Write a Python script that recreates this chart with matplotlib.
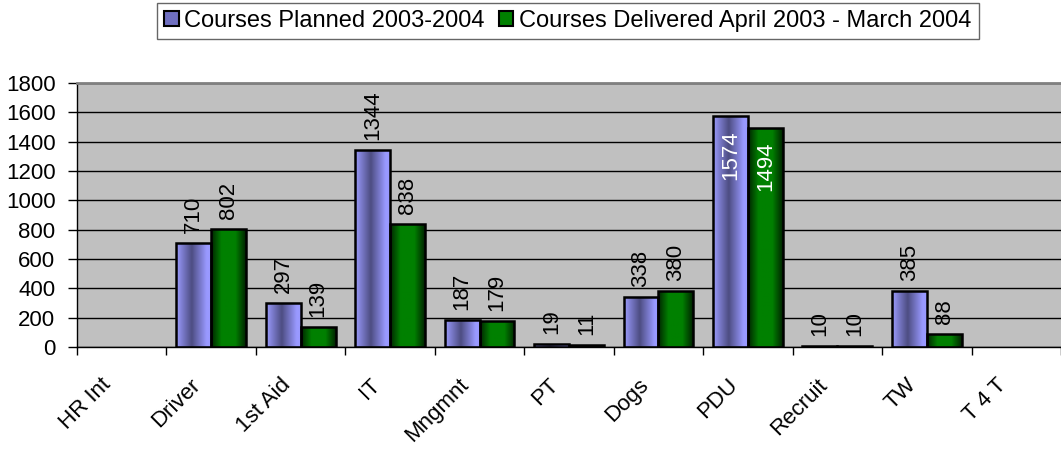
import numpy as np
import matplotlib
matplotlib.use('Agg')
import matplotlib.pyplot as plt
from matplotlib.colors import LinearSegmentedColormap
from matplotlib.transforms import ScaledTranslation
from matplotlib.patches import Patch

categories = ['HR Int', 'Driver', '1st Aid', 'IT', 'Mngmnt', 'PT', 'Dogs',
              'PDU', 'Recruit', 'TW', 'T 4 T']
planned = [np.nan, 710, 297, 1344, 187, 19, 338, 1574, 10, 385, np.nan]
delivered = [np.nan, 802, 139, 838, 179, 11, 380, 1494, 10, 88, np.nan]
series_names = ['Courses Planned 2003-2004',
                'Courses Delivered April 2003 - March 2004']
yticks = list(range(0, 1801, 200))

plt.rcParams['font.family'] = ['Liberation Sans', 'DejaVu Sans']
FS = 16

fig = plt.figure(figsize=(10.61, 4.49), dpi=100)
ax = fig.add_axes([77 / 1061, 1 - 347 / 449, (1061 - 77) / 1061, (347 - 83) / 449])
ax.set_facecolor('#C0C0C0')

x = np.arange(len(categories))
w = 0.39

cmap_p = LinearSegmentedColormap.from_list(
    'p', [(0, '#9C9CFF'), (0.45, '#4D4D82'), (0.88, '#9999FF'), (1, '#9999FF')])
cmap_g = LinearSegmentedColormap.from_list(
    'g', [(0, '#002400'), (0.3, '#008000'), (0.7, '#008000'), (1, '#002400')])

grad = np.linspace(0, 1, 128).reshape(1, -1)
bars = []
for vals, off, cmap in [(planned, -w / 2, cmap_p), (delivered, w / 2, cmap_g)]:
    bc = ax.bar(x + off, vals, w, facecolor='none', edgecolor='black',
                linewidth=1.8, zorder=3)
    for rect, v in zip(bc, vals):
        if np.isnan(v):
            continue
        x0 = rect.get_x()
        im = ax.imshow(grad, cmap=cmap, extent=[x0, x0 + w, 0, v], aspect='auto',
                       interpolation='bilinear', zorder=2.5)
        im.set_clip_path(rect)
    bars.append(bc)

# data labels
for vals, off in [(planned, -w / 2), (delivered, w / 2)]:
    for xi, v in zip(x, vals):
        if np.isnan(v):
            continue
        if v > 1400:
            ax.annotate(f'{int(v)}', xy=(xi + off, v), xytext=(0, -14),
                        textcoords='offset pixels', rotation=90, ha='center',
                        va='top', fontsize=FS, color='white', zorder=5)
        else:
            ax.annotate(f'{int(v)}', xy=(xi + off, v), xytext=(0, 10),
                        textcoords='offset pixels', rotation=90, ha='center',
                        va='bottom', fontsize=FS, color='black', zorder=5)

ax.set_xlim(-0.5, len(categories) - 0.5)
ax.set_ylim(0, 1800)
ax.set_yticks(yticks)
ax.yaxis.grid(True, color='black', linewidth=1)
ax.set_axisbelow(True)

ax.set_xticks(np.arange(-0.5, len(categories), 1))
ax.set_xticklabels([])
ax.set_xticks(x, categories, minor=True)
ax.tick_params(axis='x', which='major', length=6, width=1, direction='out')
ax.tick_params(axis='x', which='minor', length=0, pad=25, labelsize=FS)
ax.tick_params(axis='y', length=6.5, width=1, pad=9, labelsize=FS)
for lbl in ax.get_xticklabels(minor=True):
    lbl.set_rotation(45)
    lbl.set_ha('right')
    lbl.set_va('center')
    lbl.set_rotation_mode('anchor')
    lbl.set_transform(lbl.get_transform() + ScaledTranslation(-0.135, 0, fig.dpi_scale_trans))

for s in ['left', 'bottom']:
    ax.spines[s].set_color('black')
    ax.spines[s].set_linewidth(1)
ax.spines['top'].set_color('#808080')
ax.spines['top'].set_linewidth(2)
ax.spines['right'].set_visible(False)

handles = [Patch(facecolor='#6F6FC0', edgecolor='black', linewidth=1.5),
           Patch(facecolor='#008000', edgecolor='black', linewidth=1.5)]
leg = fig.legend(handles, series_names, loc='center',
                 bbox_to_anchor=(568 / 1061, 1 - 21 / 449), ncol=2, frameon=True,
                 fancybox=False, fontsize=17, handlelength=0.6, handleheight=0.6,
                 handletextpad=0.25, columnspacing=0.6, borderpad=0.3,
                 borderaxespad=0)
leg.get_frame().set_edgecolor('#404040')
leg.get_frame().set_linewidth(1)

fig.savefig('out.png', dpi=100)
